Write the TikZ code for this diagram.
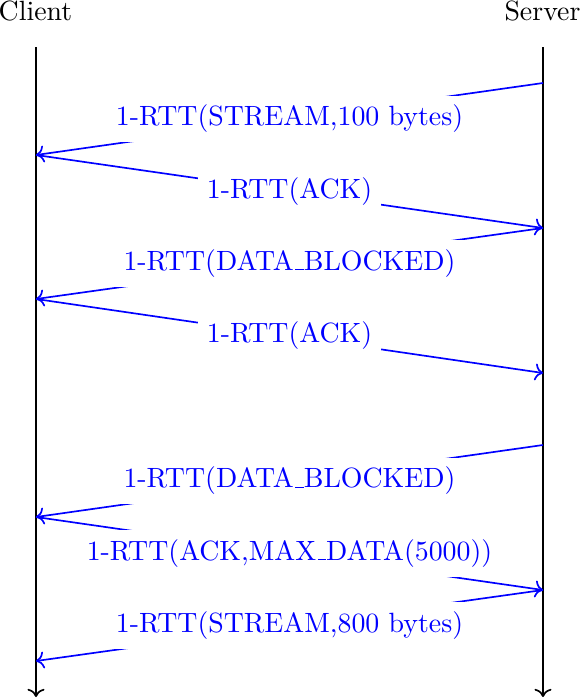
\documentclass[tikz,border=0pt]{standalone}
\usetikzlibrary{arrows.meta}
\newcommand\lowbar{\leavevmode\kern.06em\vbox{\hrule width.3em}}
\begin{document}
\begin{tikzpicture}[x=0.359pt,y=-0.359pt,
  lifeline/.style={semithick,->},
  msg/.style={semithick,blue,->},
  msglabel/.style={fill=white,text=blue,midway},
  actor/.style={anchor=base}]
\useasboundingbox (0,0) rectangle (580,699);
\node[actor] (client) at (35.5,20) {Client};
\node[actor] (server) at (542.5,20) {Server};
\coordinate (ctop) at (36,47);
\coordinate (cbot) at (36,697);
\coordinate (stop) at (543,47);
\coordinate (sbot) at (543,697);
\draw[lifeline] (ctop) -- (cbot);
\draw[lifeline] (stop) -- (sbot);
\coordinate (s1) at (543,83);  \coordinate (c1) at (36,155);
\coordinate (s2) at (543,228); \coordinate (c2) at (36,299);
\coordinate (s3) at (543,373);
\coordinate (s4) at (543,445); \coordinate (c4) at (36,517);
\coordinate (s5) at (543,590); \coordinate (c5) at (36,661);
\draw[msg] (s1) -- node[msglabel] {1-RTT(STREAM,100 bytes)} (c1);
\draw[msg] (c1) -- node[msglabel] {1-RTT(ACK)} (s2);
\draw[msg] (s2) -- node[msglabel] {1-RTT(DATA\lowbar BLOCKED)} (c2);
\draw[msg] (c2) -- node[msglabel] {1-RTT(ACK)} (s3);
\draw[msg] (s4) -- node[msglabel] {1-RTT(DATA\lowbar BLOCKED)} (c4);
\draw[msg] (c4) -- node[msglabel] {1-RTT(ACK,MAX\lowbar DATA(5000))} (s5);
\draw[msg] (s5) -- node[msglabel] {1-RTT(STREAM,800 bytes)} (c5);
\end{tikzpicture}
\end{document}
